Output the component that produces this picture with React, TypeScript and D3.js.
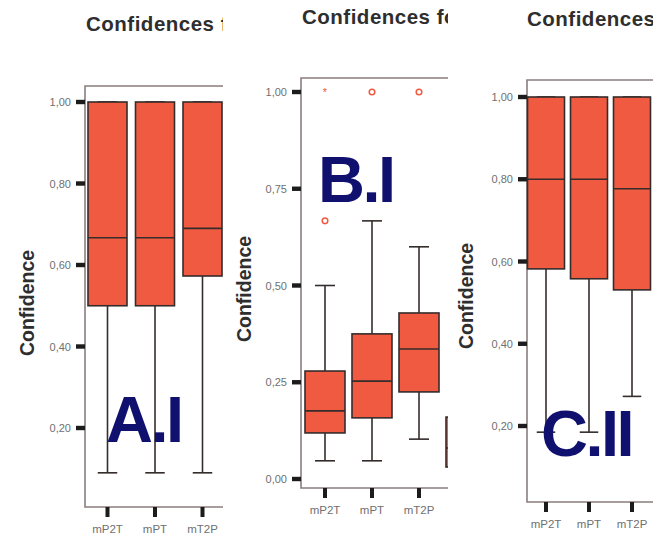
import React from "react";
import * as d3 from "d3";

// ---- data ----
const categories = ["mP2T", "mPT", "mT2P"];
const categoriesB = ["mP2T", "mPT", "mT2P", "mTP"];

const yTicksA = [0.2, 0.4, 0.6, 0.8, 1.0];
const yTicksB = [0.0, 0.25, 0.5, 0.75, 1.0];
const yTicksC = [0.2, 0.4, 0.6, 0.8, 1.0];

const minA = [0.09, 0.09, 0.09];
const q1A = [0.5, 0.5, 0.573];
const medA = [0.667, 0.667, 0.69];
const q3A = [1.0, 1.0, 1.0];
const maxA = [1.0, 1.0, 1.0];

const minB = [0.047, 0.047, 0.103, 0.0];
const q1B = [0.119, 0.158, 0.225, 0.031];
const medB = [0.176, 0.253, 0.336, 0.08];
const q3B = [0.279, 0.375, 0.429, 0.16];
const maxB = [0.5, 0.667, 0.6, 0.33];
const outlierCatB = ["mP2T", "mP2T", "mPT", "mT2P"];
const outlierValB = [0.667, 1.0, 1.0, 1.0];
const outlierKindB = ["circle", "star", "circle", "circle"];

const minC = [0.185, 0.185, 0.272];
const q1C = [0.582, 0.558, 0.531];
const medC = [0.8, 0.8, 0.777];
const q3C = [1.0, 1.0, 1.0];
const maxC = [1.0, 1.0, 1.0];

const panelLabels = ["A.I", "B.I", "C.II"];
const titleText = "Confidences for";
const yTitle = "Confidence";

// ---- styles ----
const FONT = "'Liberation Sans', Arial, Helvetica, sans-serif";
const BOX_FILL = "#f05a40";
const LINE = "#352c2c";
const FRAME = "#8a7e7e";
const NAVY = "#10106f";

type PanelCfg = {
  id: string;
  clipX0: number;
  clipX1: number;
  frameLeft: number;
  frameTop: number;
  frameBottom: number;
  yDomain: [number, number];
  yRange: [number, number];
  ticks: number[];
  cats: string[];
  firstCenter: number;
  step: number;
  boxW: number;
  mins: number[];
  q1s: number[];
  meds: number[];
  q3s: number[];
  maxs: number[];
  outCat?: string[];
  outVal?: number[];
  outKind?: string[];
  titleX: number;
  titleY: number;
  yTitleX: number;
  yTitleY: number;
  xLabelY: number;
  label: string;
  labelX: number;
  labelY: number;
};

const fmt = (v: number) => d3.format(".2f")(v).replace(".", ",");

function Panel({ c }: { c: PanelCfg }) {
  const y = d3.scaleLinear().domain(c.yDomain).range(c.yRange);
  const x = d3
    .scalePoint<string>()
    .domain(c.cats)
    .range([c.firstCenter, c.firstCenter + (c.cats.length - 1) * c.step]);
  const hw = c.boxW / 2;
  const cap = c.boxW / 4;
  return (
    <g clipPath={`url(#clip-${c.id})`}>
      {/* title */}
      <text
        x={c.titleX}
        y={c.titleY}
        fontFamily={FONT}
        fontWeight="bold"
        fontSize={20.5}
        letterSpacing={0.5}
        fill="#2e2e2e"
      >
        {titleText}
      </text>
      {/* y axis title */}
      <text
        transform={`translate(${c.yTitleX},${c.yTitleY}) rotate(-90)`}
        textAnchor="middle"
        dominantBaseline="central"
        fontFamily={FONT}
        fontWeight="bold"
        fontSize={19.5}
        fill="#2e2e2e"
      >
        {yTitle}
      </text>
      {/* frame */}
      <path
        d={`M${c.clipX1 + 5},${c.frameTop}H${c.frameLeft}V${c.frameBottom}H${c.clipX1 + 5}`}
        fill="none"
        stroke={FRAME}
        strokeWidth={1.6}
      />
      {/* y ticks */}
      {c.ticks.map((t) => (
        <g key={t}>
          <rect x={c.frameLeft - 9} y={y(t) - 2.2} width={9} height={4.4} fill="#1c1c1c" />
          <text
            x={c.frameLeft - 14}
            y={y(t)}
            textAnchor="end"
            dominantBaseline="central"
            fontFamily={FONT}
            fontSize={11}
            fill="#707070"
          >
            {fmt(t)}
          </text>
        </g>
      ))}
      {/* x ticks & labels */}
      {c.cats.map((cat) => (
        <g key={cat}>
          <rect x={(x(cat) as number) - 2} y={c.frameBottom} width={4} height={10} fill="#1c1c1c" />
          <text
            x={x(cat) as number}
            y={c.xLabelY}
            textAnchor="middle"
            fontFamily={FONT}
            fontSize={11.5}
            fill="#707070"
          >
            {cat}
          </text>
        </g>
      ))}
      {/* boxes */}
      {c.cats.map((cat, i) => {
        const cx = x(cat) as number;
        return (
          <g key={"b" + cat}>
            <line x1={cx} x2={cx} y1={y(c.maxs[i])} y2={y(c.q3s[i])} stroke={LINE} strokeWidth={1.6} />
            <line x1={cx} x2={cx} y1={y(c.q1s[i])} y2={y(c.mins[i])} stroke={LINE} strokeWidth={1.6} />
            <line x1={cx - cap} x2={cx + cap} y1={y(c.maxs[i])} y2={y(c.maxs[i])} stroke={LINE} strokeWidth={1.6} />
            <line x1={cx - cap} x2={cx + cap} y1={y(c.mins[i])} y2={y(c.mins[i])} stroke={LINE} strokeWidth={1.6} />
            <rect
              x={cx - hw}
              y={y(c.q3s[i])}
              width={c.boxW}
              height={y(c.q1s[i]) - y(c.q3s[i])}
              fill={BOX_FILL}
              stroke={LINE}
              strokeWidth={1.6}
            />
            <line x1={cx - hw} x2={cx + hw} y1={y(c.meds[i])} y2={y(c.meds[i])} stroke={LINE} strokeWidth={1.6} />
          </g>
        );
      })}
      {/* outliers */}
      {(c.outVal || []).map((v, i) => {
        const cx = x(c.outCat![i]) as number;
        const cy = y(v);
        return c.outKind![i] === "circle" ? (
          <circle key={"o" + i} cx={cx} cy={cy} r={2.8} fill="none" stroke={BOX_FILL} strokeWidth={1.5} />
        ) : (
          <text
            key={"o" + i}
            x={cx}
            y={cy + 4}
            textAnchor="middle"
            fontFamily={FONT}
            fontSize={11}
            fill={BOX_FILL}
          >
            *
          </text>
        );
      })}
      {/* big panel label */}
      <text
        x={c.labelX}
        y={c.labelY}
        fontFamily={FONT}
        fontWeight="bold"
        fontSize={65}
        letterSpacing={-2.5}
        fill={NAVY}
      >
        {c.label}
      </text>
    </g>
  );
}

const panels: PanelCfg[] = [
  {
    id: "a",
    clipX0: 0,
    clipX1: 223,
    frameLeft: 85,
    frameTop: 86,
    frameBottom: 507,
    yDomain: [0.2, 1.0],
    yRange: [428, 102],
    ticks: yTicksA,
    cats: categories,
    firstCenter: 107.5,
    step: 47.5,
    boxW: 39,
    mins: minA,
    q1s: q1A,
    meds: medA,
    q3s: q3A,
    maxs: maxA,
    titleX: 86,
    titleY: 31,
    yTitleX: 27,
    yTitleY: 303,
    xLabelY: 533,
    label: panelLabels[0],
    labelX: 106,
    labelY: 442,
  },
  {
    id: "b",
    clipX0: 224,
    clipX1: 448,
    frameLeft: 301,
    frameTop: 78,
    frameBottom: 488,
    yDomain: [0, 1.0],
    yRange: [479, 92],
    ticks: yTicksB,
    cats: categoriesB,
    firstCenter: 325,
    step: 47,
    boxW: 40,
    mins: minB,
    q1s: q1B,
    meds: medB,
    q3s: q3B,
    maxs: maxB,
    outCat: outlierCatB,
    outVal: outlierValB,
    outKind: outlierKindB,
    titleX: 302,
    titleY: 24,
    yTitleX: 244,
    yTitleY: 289,
    xLabelY: 514,
    label: panelLabels[1],
    labelX: 318,
    labelY: 202,
  },
  {
    id: "c",
    clipX0: 450,
    clipX1: 653,
    frameLeft: 527,
    frameTop: 80,
    frameBottom: 502,
    yDomain: [0.2, 1.0],
    yRange: [426, 97],
    ticks: yTicksC,
    cats: categories,
    firstCenter: 546,
    step: 43,
    boxW: 37,
    mins: minC,
    q1s: q1C,
    meds: medC,
    q3s: q3C,
    maxs: maxC,
    titleX: 527,
    titleY: 26,
    yTitleX: 466,
    yTitleY: 296,
    xLabelY: 528,
    label: panelLabels[2],
    labelX: 541,
    labelY: 456,
  },
];

export default function App() {
  return (
    <svg
      width={653}
      height={534}
      style={{ position: "absolute", left: 0, top: 0, display: "block", background: "#fff" }}
    >
      <defs>
        {panels.map((p) => (
          <clipPath id={`clip-${p.id}`} key={p.id}>
            <rect x={p.clipX0} y={0} width={p.clipX1 - p.clipX0} height={534} />
          </clipPath>
        ))}
      </defs>
      <rect width={653} height={534} fill="#fff" />
      {panels.map((p) => (
        <Panel key={p.id} c={p} />
      ))}
    </svg>
  );
}
